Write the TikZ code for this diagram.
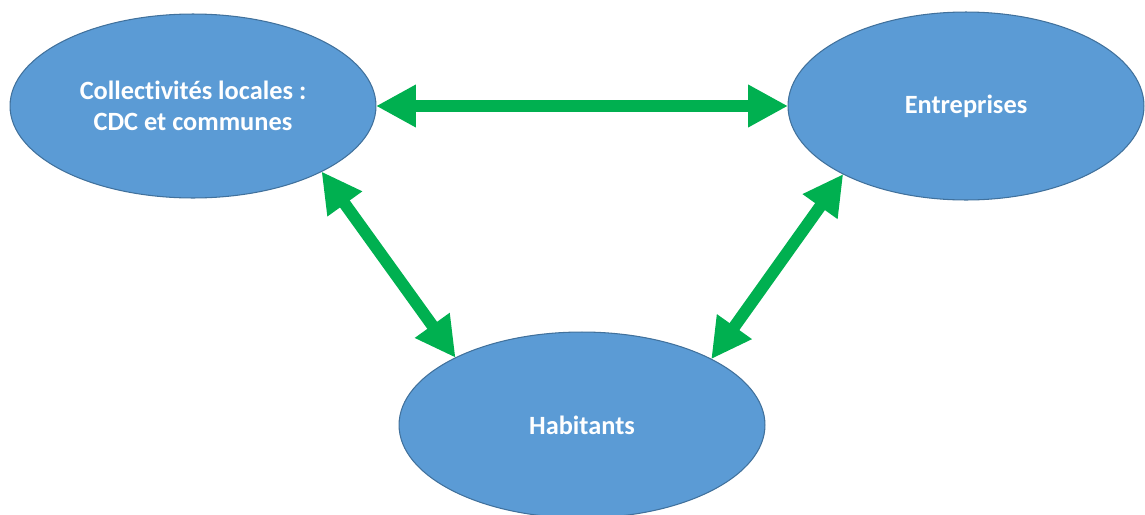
\documentclass[tikz,border=0pt]{standalone}
\usepackage{fontspec}
\setmainfont{Carlito}[Ligatures=NoCommon]
\usetikzlibrary{shapes.geometric,arrows.meta}
\definecolor{blobfill}{HTML}{5B9BD5}
\definecolor{blobline}{HTML}{41719C}
\definecolor{linkgreen}{HTML}{00B050}
\begin{document}
\begin{tikzpicture}[x=0.02cm,y=-0.02cm,
  blob/.style={ellipse,draw=blobline,fill=blobfill,line width=0.6pt,inner sep=0pt,outer sep=0pt,
    text=white,font=\bfseries\fontsize{15}{18}\selectfont,align=center},
  link/.style={linkgreen,line width=0.24cm,{Triangle[length=8mm,width=8mm]}-{Triangle[length=8mm,width=8mm]}}]
   \useasboundingbox (0,0) rectangle (1145,514);
   \node[blob,minimum width=7.32cm,minimum height=3.68cm] (col) at (193,106) {Collectivités locales :\\CDC et communes};
   \node[blob,minimum width=7.12cm,minimum height=3.76cm] (ent) at (966,106) {Entreprises};
   \node[blob,minimum width=7.32cm,minimum height=3.72cm] (hab) at (582,425) {Habitants};
   \draw[link] (col.east) -- (ent.west);
   \draw[link] (col.-27) -- (hab.152);
   \draw[link] (ent.-151) -- (hab.27);
\end{tikzpicture}
\end{document}
